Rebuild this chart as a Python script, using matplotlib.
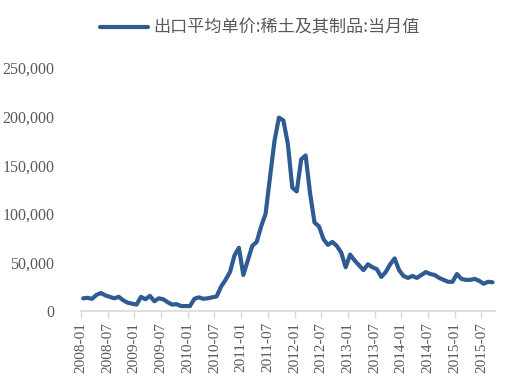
import matplotlib
matplotlib.use("Agg")
import matplotlib.pyplot as plt
import numpy as np

series_name = "出口平均单价:稀土及其制品:当月值"
start_year, start_month = 2008, 1
values = [
    13000, 13500, 12500, 16500, 18500, 16000, 14500, 13000, 14500, 11000, 8500, 7500,
    6500, 14500, 12000, 15500, 10000, 13000, 12000, 9000, 6500, 7000, 5000, 5000,
    5000, 12500, 14000, 12500, 13000, 14000, 15000, 25000, 32000, 40000, 57000, 65000,
    37000, 52000, 67000, 71000, 87000, 100000, 138000, 175000, 199000, 196000, 172000, 127000,
    123000, 156000, 160000, 121000, 91000, 87000, 74000, 68000, 71000, 67000, 60000, 45000,
    58000, 52000, 47000, 42000, 48000, 45000, 43000, 35000, 40000, 48000, 54000, 42000,
    36000, 34000, 36000, 34000, 37000, 40000, 38000, 37000, 34000, 32000, 30000, 30000,
    38000, 33000, 32000, 32000, 33000, 31000, 28000, 30000, 29500,
]
tick_labels = ["2008-01", "2008-07", "2009-01", "2009-07", "2010-01", "2010-07",
               "2011-01", "2011-07", "2012-01", "2012-07", "2013-01", "2013-07",
               "2014-01", "2014-07", "2015-01", "2015-07"]
y_ticks = [0, 50000, 100000, 150000, 200000, 250000]

n = len(values)
x = np.arange(n) + 0.5

fig = plt.figure(figsize=(5.09, 3.82), dpi=100)
ax = fig.add_axes([0.159, 0.186, 0.813, 0.636])

line, = ax.plot(x, values, color="#2f5b93", linewidth=3.0, solid_joinstyle="round",
                solid_capstyle="round", label=series_name)

ax.set_xlim(0, n)
ax.set_ylim(0, 250000)
ax.set_xticks(np.arange(len(tick_labels)) * 6)
ax.set_xticklabels(tick_labels, rotation=90, fontfamily="Liberation Serif",
                   fontsize=11, color="#595959")
ax.set_yticks(y_ticks)
ax.set_yticklabels([f"{v:,}" for v in y_ticks], fontfamily="Liberation Serif",
                   fontsize=11.5, color="#595959")

for s in ["top", "right", "left"]:
    ax.spines[s].set_visible(False)
ax.spines["bottom"].set_color("#d9d9d9")
ax.spines["bottom"].set_linewidth(1.2)
ax.tick_params(axis="x", length=5, width=1, color="#d9d9d9", pad=3)
ax.tick_params(axis="y", length=0, pad=19)

fig.legend(handles=[line], loc="center", bbox_to_anchor=(0.511, 0.928), frameon=False,
           handlelength=2.8, handletextpad=0.3,
           prop={"family": ["Noto Sans CJK SC", "DejaVu Sans"], "size": 12.3},
           labelcolor="#595959")

fig.savefig("out.png", dpi=100)
